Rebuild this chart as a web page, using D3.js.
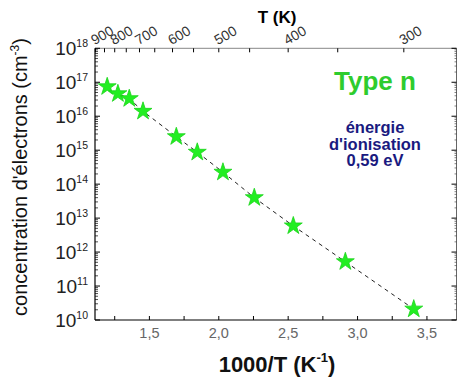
<!DOCTYPE html>
<html>
<head>
<meta charset="utf-8">
<script src="https://cdn.jsdelivr.net/npm/d3@7"></script>
<style>
  body { margin: 0; background: #fff; }
  svg { font-family: "Liberation Sans", Arial, sans-serif; }
</style>
</head>
<body>
<svg id="chart" width="458" height="378"></svg>
<script>
// 1000/T (K^-1) and electron concentration (cm^-3)
const invT = [1.196, 1.273, 1.355, 1.454, 1.694, 1.845, 2.03, 2.256, 2.537, 2.912, 3.405];
const conc = [7.4e16, 4.6e16, 3.3e16, 1.4e16, 2.5e15, 8.7e14, 2.25e14, 4.0e13, 5.9e12, 5.2e11, 2.1e10];

const xTicks = [1.5, 2.0, 2.5, 3.0, 3.5];
const xMinor = [1.25, 1.75, 2.25, 2.75, 3.25];
const tempTicks = [900, 800, 700, 600, 500, 400, 300];
const tempMinor = [850, 750, 650, 550, 450, 350];
const yExp = [10, 11, 12, 13, 14, 15, 16, 17, 18];

const svg = d3.select("#chart");

const x = d3.scaleLinear().domain([1.108, 3.713]).range([95, 456.5]);
const y = d3.scaleLog().domain([1e10, 1e18]).range([320, 48.3]);

const xL = x.range()[0], xR = x.range()[1];
const yT = y.range()[1], yB = y.range()[0];

// frame
svg.append("line").attr("x1", xL).attr("x2", xR).attr("y1", yT).attr("y2", yT)
  .attr("stroke", "#888").attr("stroke-width", 1);
svg.append("line").attr("x1", xR).attr("x2", xR).attr("y1", yT).attr("y2", yB)
  .attr("stroke", "#666").attr("stroke-width", 1);
svg.append("line").attr("x1", xL).attr("x2", xL).attr("y1", yT).attr("y2", yB)
  .attr("stroke", "#000").attr("stroke-width", 1.2);
svg.append("line").attr("x1", xL).attr("x2", xR).attr("y1", yB).attr("y2", yB)
  .attr("stroke", "#000").attr("stroke-width", 1.2);

// bottom ticks (inward)
svg.append("g").selectAll("line")
  .data(xTicks.concat(xMinor))
  .join("line")
  .attr("x1", d => x(d)).attr("x2", d => x(d))
  .attr("y1", yB).attr("y2", yB - 4)
  .attr("stroke", "#000");

svg.append("g").selectAll("text")
  .data(xTicks)
  .join("text")
  .attr("x", d => x(d)).attr("y", yB + 18)
  .attr("text-anchor", "middle")
  .attr("font-size", 14.5)
  .attr("fill", "#666")
  .text(d => d3.format(".1f")(d).replace(".", ","));

// top axis: temperature
svg.append("g").selectAll("line")
  .data(tempTicks.concat(tempMinor))
  .join("line")
  .attr("x1", d => x(1000 / d)).attr("x2", d => x(1000 / d))
  .attr("y1", yT).attr("y2", yT + 4)
  .attr("stroke", "#000");

svg.append("g").selectAll("text")
  .data(tempTicks)
  .join("text")
  .attr("transform", d => `translate(${x(1000 / d) - 1},${yT - 3}) rotate(-30)`)
  .attr("font-size", 14)
  .attr("fill", "#333")
  .text(d => d);

svg.append("text")
  .attr("x", 277).attr("y", 23)
  .attr("text-anchor", "middle")
  .attr("font-size", 17).attr("font-weight", "bold")
  .text("T (K)");

// y ticks: decades + minor
const minorY = [];
yExp.slice(0, -1).forEach(e => {
  for (let k = 2; k <= 9; k++) minorY.push(k * Math.pow(10, e));
});

svg.append("g").selectAll("line")
  .data(yExp)
  .join("line")
  .attr("x1", xL).attr("x2", xL + 5)
  .attr("y1", d => y(Math.pow(10, d))).attr("y2", d => y(Math.pow(10, d)))
  .attr("stroke", "#000");
svg.append("g").selectAll("line")
  .data(minorY)
  .join("line")
  .attr("x1", xL).attr("x2", xL + 3)
  .attr("y1", d => y(d)).attr("y2", d => y(d))
  .attr("stroke", "#000").attr("stroke-width", 0.7);

svg.append("g").selectAll("line")
  .data(yExp)
  .join("line")
  .attr("x1", xR).attr("x2", xR - 5)
  .attr("y1", d => y(Math.pow(10, d))).attr("y2", d => y(Math.pow(10, d)))
  .attr("stroke", "#000");
svg.append("g").selectAll("line")
  .data(minorY)
  .join("line")
  .attr("x1", xR).attr("x2", xR - 2)
  .attr("y1", d => y(d)).attr("y2", d => y(d))
  .attr("stroke", "#333").attr("stroke-width", 0.6);

const yLab = svg.append("g").selectAll("text")
  .data(yExp)
  .join("text")
  .attr("x", 88)
  .attr("y", d => y(Math.pow(10, d)) + 6.5)
  .attr("text-anchor", "end")
  .attr("fill", "#222");
yLab.append("tspan").attr("font-size", 19).text("10");
yLab.append("tspan").attr("font-size", 10.5).attr("dy", -8).text(d => d);

// axis titles
const yTitle = svg.append("text")
  .attr("transform", "translate(27,177) rotate(-90)")
  .attr("text-anchor", "middle")
  .attr("font-size", 20)
  .attr("fill", "#111");
yTitle.append("tspan").text("concentration d'électrons (cm");
yTitle.append("tspan").attr("font-size", 12).attr("dy", -8).text("-3");
yTitle.append("tspan").attr("dy", 8).text(")");

const xTitle = svg.append("text")
  .attr("x", 277).attr("y", 372)
  .attr("text-anchor", "middle")
  .attr("font-size", 22).attr("font-weight", "bold")
  .attr("fill", "#111");
xTitle.append("tspan").text("1000/T (K");
xTitle.append("tspan").attr("font-size", 13).attr("dy", -10).text("-1");
xTitle.append("tspan").attr("dy", 10).text(")");

// annotations
svg.append("text")
  .attr("x", 375).attr("y", 90)
  .attr("text-anchor", "middle")
  .attr("font-size", 26).attr("font-weight", "bold")
  .attr("fill", "#2ecc2e")
  .text("Type n");

const note = ["énergie", "d'ionisation", "0,59 eV"];
svg.append("g").selectAll("text")
  .data(note)
  .join("text")
  .attr("x", 375).attr("y", (d, i) => 133 + i * 16.5)
  .attr("text-anchor", "middle")
  .attr("font-size", 16.5).attr("font-weight", "bold")
  .attr("fill", "#1a1a80")
  .text(d => d);

// data
const pts = invT.map((v, i) => [v, conc[i]]);

svg.append("path")
  .datum(pts)
  .attr("d", d3.line().x(d => x(d[0])).y(d => y(d[1])))
  .attr("fill", "none")
  .attr("stroke", "#222")
  .attr("stroke-width", 1)
  .attr("stroke-dasharray", "4,4");

svg.append("g").selectAll("path")
  .data(pts)
  .join("path")
  .attr("transform", d => `translate(${x(d[0])},${y(d[1])})`)
  .attr("d", d3.symbol(d3.symbolStar, 100))
  .attr("fill", "#22ee22")
  .attr("stroke", "#1bd41b")
  .attr("stroke-width", 0.8);
</script>
</body>
</html>
